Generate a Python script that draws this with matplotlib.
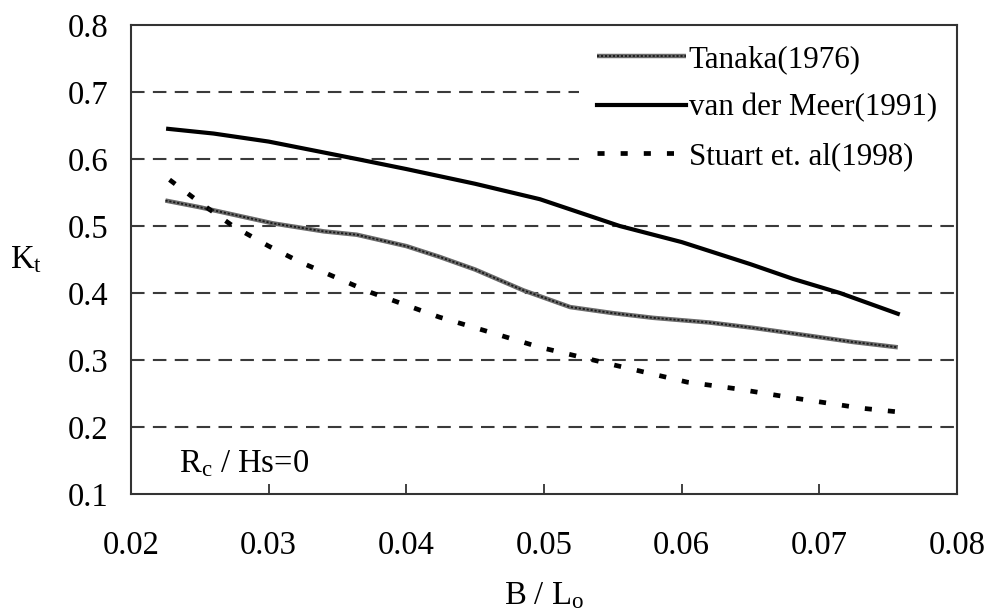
import numpy as np
import matplotlib
matplotlib.use('Agg')
from matplotlib import pyplot as plt
from matplotlib.legend_handler import HandlerTuple

plt.rcParams['font.family'] = ['Liberation Serif', 'DejaVu Serif']
plt.rcParams['mathtext.fontset'] = 'custom'
plt.rcParams['mathtext.rm'] = 'Liberation Serif'
plt.rcParams['mathtext.it'] = 'Liberation Serif:italic'

# values
tanaka_x = [0.0225, 0.0250, 0.0303, 0.0340, 0.0364, 0.0400, 0.0424, 0.0450,
            0.0485, 0.0519, 0.0550, 0.0579, 0.0620, 0.0652, 0.0690, 0.0724, 0.0757]
tanaka_y = [0.538, 0.528, 0.504, 0.492, 0.487, 0.470, 0.454, 0.435,
            0.404, 0.379, 0.370, 0.363, 0.356, 0.348, 0.337, 0.327, 0.319]

meer_x = [0.0227, 0.0260, 0.0300, 0.0364, 0.0400, 0.0450, 0.0497, 0.0555,
          0.0600, 0.0650, 0.0681, 0.0715, 0.0757]
meer_y = [0.645, 0.638, 0.626, 0.600, 0.585, 0.563, 0.540, 0.500,
          0.476, 0.443, 0.421, 0.400, 0.369]

stuart_x = [0.0228, 0.0250, 0.0274, 0.0300, 0.0323, 0.0374, 0.0424, 0.0460,
            0.0497, 0.0550, 0.0604, 0.0640, 0.0676, 0.0731, 0.0755]
stuart_y = [0.569, 0.535, 0.500, 0.470, 0.446, 0.401, 0.364, 0.342,
            0.319, 0.293, 0.267, 0.257, 0.245, 0.228, 0.223]

xticks = [0.02, 0.03, 0.04, 0.05, 0.06, 0.07, 0.08]
yticks = [0.1, 0.2, 0.3, 0.4, 0.5, 0.6, 0.7, 0.8]

fs = 23.5

fig = plt.figure(figsize=(9.85, 6.14), dpi=100)
ax = fig.add_axes((0.133, 0.1954, 0.8386, 0.7639))

# dashed horizontal grid
for yv in yticks[1:-1]:
    ax.axhline(yv, color='#3a3a3a', lw=1.5, dashes=(6.5, 4), zorder=1)

# Tanaka: grey textured line
t1, = ax.plot(tanaka_x, tanaka_y, color='0.42', lw=3.2, solid_capstyle='butt', zorder=3)
t2, = ax.plot(tanaka_x, tanaka_y, color='0.1', lw=1.3, dashes=(1.2, 1.0), zorder=4)
m1, = ax.plot(meer_x, meer_y, color='black', lw=3.0, zorder=3)
s1, = ax.plot(stuart_x, stuart_y, color='black', lw=3.4, dashes=(1.5, 3.4),
              dash_capstyle='butt', zorder=3)

ax.set_xlim(0.02, 0.08)
ax.set_ylim(0.1, 0.8)
ax.set_xticks(xticks)
ax.set_xticklabels(['%.2f' % v for v in xticks])
ax.set_yticks(yticks)
ax.set_yticklabels(['%.1f' % v for v in yticks])
ax.tick_params(axis='x', direction='in', length=7, width=1.3, color='#333333',
               labelsize=fs, pad=26)
ax.tick_params(axis='y', length=0, labelsize=fs, pad=16)
for sp in ax.spines.values():
    sp.set_color('#333333')
    sp.set_linewidth(1.5)

ax.set_xlabel('B / L$_{\\mathrm{o}}$', fontsize=fs, labelpad=14)
ax.set_ylabel('K$_{\\mathrm{t}}$', fontsize=fs, rotation=0, labelpad=30, va='center')

ax.text(0.0235, 0.145, 'R$_{\\mathrm{c}}$ / Hs=0', fontsize=fs, va='center')

leg = ax.legend([(t1, t2), m1, s1],
                ['Tanaka(1976)', 'van der Meer(1991)', 'Stuart et. al(1998)'],
                handler_map={tuple: HandlerTuple(ndivide=1)},
                loc='upper right', fontsize=22.3, frameon=True, fancybox=False,
                handlelength=2.85, handletextpad=0.1, labelspacing=0.62,
                borderaxespad=0.05, borderpad=0.6)
leg.get_frame().set_edgecolor('none')
leg.get_frame().set_facecolor('white')
leg.get_frame().set_alpha(1.0)
leg.set_zorder(5)

fig.savefig('out.png', dpi=100)
